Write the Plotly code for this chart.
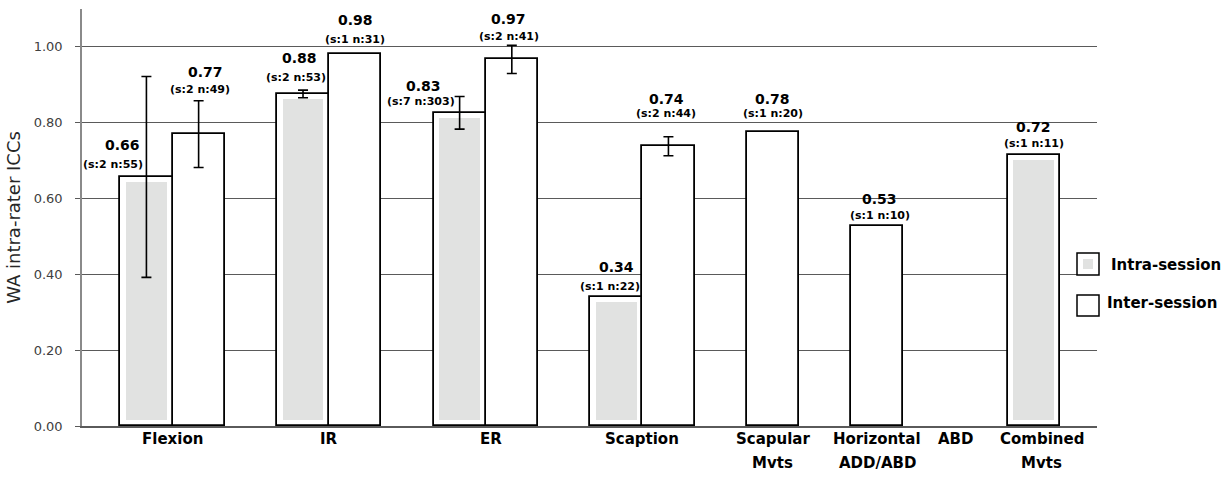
import plotly.graph_objects as go

# ---------------- data ----------------
categories = ["Flexion", "IR", "ER", "Scaption", "Scapular Mvts",
              "Horizontal ADD/ABD", "ABD", "Combined Mvts"]
category_lines = [["Flexion"], ["IR"], ["ER"], ["Scaption"], ["Scapular", "Mvts"],
                  ["Horizontal", "ADD/ABD"], ["ABD"], ["Combined", "Mvts"]]

intra_icc = [0.657, 0.876, 0.826, 0.339, None, None, None, 0.716]
intra_err = [0.265, 0.010, 0.043, None, None, None, None, None]
intra_n = ["(s:2 n:55)", "(s:2 n:53)", "(s:7 n:303)", "(s:1 n:22)", None, None, None, "(s:1 n:11)"]

inter_icc = [0.770, 0.981, 0.967, 0.738, 0.776, 0.527, None, None]
inter_err = [0.088, None, 0.037, 0.025, None, None, None, None]
inter_n = ["(s:2 n:49)", "(s:1 n:31)", "(s:2 n:41)", "(s:2 n:44)", "(s:1 n:20)", "(s:1 n:10)", None, None]

y_ticks = [0.0, 0.2, 0.4, 0.6, 0.8, 1.0]
y_title = "WA intra-rater ICCs"
legend_names = ["Intra-session", "Inter-session"]

# ---------------- layout helpers ----------------
group_pos = [1, 4, 7, 10, 12.5, 14.5, 16, 17.5]      # category centres (bar-width units)
label_pos = [1, 4, 7.1, 10, 12.5, 14.5, 16, 17.65]   # category label centres
BLACK = "#000000"
GRID = "#5a5a5a"
FILL = "#e1e2e1"
FONT = "DejaVu Sans"

# label offsets: (dx_main, dx_sub, gap_sub, gap_main, use_error_top)
intra_lbl = {0: (-23.5, -33.5, 12.5, 31.5, False), 1: (-4, -7, 13, 32, True),
             2: (-36.5, -39, 11, 27, False), 3: (0, -6.5, 11, 30.5, False),
             7: (0, 0, 11, 28, True)}
inter_lbl = {0: (7, 1, 11, 28.5, True), 1: (0, 0, 15, 34, True), 2: (-3, -3, 8.5, 26, True),
             3: (-2, -2, 23, 37.5, True), 4: (0, 0, 18, 32.5, True), 5: (2.5, 2.5, 11, 27, True)}

intra_x, inter_x = [], []
for i, c in enumerate(group_pos):
    both = intra_icc[i] is not None and inter_icc[i] is not None
    intra_x.append(c - 0.5 if both else c)
    inter_x.append(c + 0.5 if both else c)


def nan(v):
    return float("nan") if v is None else v


def keep(xs, vals):
    return ([x for x, v in zip(xs, vals) if v is not None],
            [v for v in vals if v is not None])


fig = go.Figure()

# inter-session bars
ix, iv = keep(inter_x, inter_icc)
fig.add_trace(go.Bar(
    x=ix, y=iv, width=1, name=legend_names[1],
    marker=dict(color="white", line=dict(color=BLACK, width=1.8)),
    showlegend=False))

# intra-session bars (outline + inset grey fill)
ax, av = keep(intra_x, intra_icc)
fig.add_trace(go.Bar(
    x=ax, y=av, width=1, name=legend_names[0],
    marker=dict(color="white", line=dict(color=BLACK, width=1.8)),
    showlegend=False))
inset_b, inset_t = 0.016, 0.013
fig.add_trace(go.Bar(
    x=ax, y=[v - inset_b - inset_t for v in av],
    base=inset_b, width=0.78, marker=dict(color=FILL, line=dict(width=0)),
    showlegend=False, hoverinfo="skip"))


# error bars (only where an error is given)
def add_err(xs, vals, errs):
    ex = [xs[i] for i in range(len(vals)) if vals[i] is not None and errs[i] is not None]
    ey = [vals[i] for i in range(len(vals)) if vals[i] is not None and errs[i] is not None]
    ee = [errs[i] for i in range(len(vals)) if vals[i] is not None and errs[i] is not None]
    fig.add_trace(go.Scatter(
        x=ex, y=ey, mode="markers", marker=dict(size=1, color="rgba(0,0,0,0)"),
        error_y=dict(type="data", array=ee, visible=True, color=BLACK, thickness=1.6, width=5),
        showlegend=False, hoverinfo="skip"))


add_err(inter_x, inter_icc, inter_err)
add_err(intra_x, intra_icc, intra_err)

# value labels
ann = []


def add_labels(xs, vals, errs, subs, spec):
    for i, v in enumerate(vals):
        if v is None:
            continue
        dxm, dxs, gs, gm, use_err = spec.get(i, (0, 0, 11, 28, True))
        top = v + (errs[i] if (use_err and errs[i] is not None) else 0)
        ann.append(dict(x=xs[i], y=top, xref="x", yref="y", text=f"<b>{v:.2f}</b>",
                        showarrow=False, xshift=dxm, yshift=gm, yanchor="middle",
                        font=dict(family=FONT, size=14, color=BLACK)))
        ann.append(dict(x=xs[i], y=top, xref="x", yref="y", text=f"<b>{subs[i]}</b>",
                        showarrow=False, xshift=dxs, yshift=gs, yanchor="middle",
                        font=dict(family=FONT, size=11, color=BLACK)))


add_labels(intra_x, intra_icc, intra_err, intra_n, intra_lbl)
add_labels(inter_x, inter_icc, inter_err, inter_n, inter_lbl)

# category labels
for i, lines in enumerate(category_lines):
    for k, line in enumerate(lines):
        ann.append(dict(x=label_pos[i], y=0, xref="x", yref="paper", text=f"<b>{line}</b>",
                        showarrow=False, yanchor="middle", yshift=-13 - 24 * k,
                        font=dict(family=FONT, size=15, color=BLACK)))

# legend (drawn)
PL, PR, PT, PB = 82, 1097, 9, 426


def px(xp):
    return (xp - PL) / (PR - PL)


def py(yp):
    return (PB - yp) / (PB - PT)


shapes = [
    dict(type="rect", xref="paper", yref="paper", x0=px(1077), x1=px(1099), y0=py(275), y1=py(253),
         line=dict(color=BLACK, width=1.5), fillcolor="white", layer="above"),
    dict(type="rect", xref="paper", yref="paper", x0=px(1083), x1=px(1093), y0=py(269), y1=py(259),
         line=dict(width=0), fillcolor=FILL, layer="above"),
    dict(type="rect", xref="paper", yref="paper", x0=px(1077), x1=px(1099), y0=py(316), y1=py(295),
         line=dict(color=BLACK, width=1.5), fillcolor="white", layer="above"),
]
ann.append(dict(x=px(1109), y=py(265), xref="paper", yref="paper", text=f"<b>{legend_names[0]}</b>",
                showarrow=False, xanchor="left", yanchor="middle",
                font=dict(family=FONT, size=15, color=BLACK)))
ann.append(dict(x=px(1105), y=py(303), xref="paper", yref="paper", text=f"<b>{legend_names[1]}</b>",
                showarrow=False, xanchor="left", yanchor="middle",
                font=dict(family=FONT, size=15, color=BLACK)))

fig.update_layout(
    width=1224, height=477, autosize=False,
    margin=dict(l=PL, r=1224 - PR, t=PT, b=477 - PB),
    paper_bgcolor="white", plot_bgcolor="white",
    barmode="overlay", bargap=0,
    annotations=ann, shapes=shapes,
    xaxis=dict(range=[-0.734, 18.71], showgrid=False, zeroline=False, showticklabels=False,
               ticks="", showline=True, linecolor=GRID, linewidth=1.5, fixedrange=True),
    yaxis=dict(range=[0, 1.1], tickvals=y_ticks, ticktext=[f"{t:.2f}" for t in y_ticks],
               showgrid=True, gridcolor=GRID, gridwidth=1.3, zeroline=False,
               ticks="outside", ticklen=5, tickcolor=GRID, tickwidth=1.3,
               showline=True, linecolor="#8a8a8a", linewidth=1.5,
               ticklabelstandoff=10,
               tickfont=dict(family=FONT, size=13, color="#404040"),
               title=dict(text=y_title, font=dict(family=FONT, size=18, color="#262626"), standoff=8),
               fixedrange=True),
    showlegend=False,
)

fig.write_html("out.html")
